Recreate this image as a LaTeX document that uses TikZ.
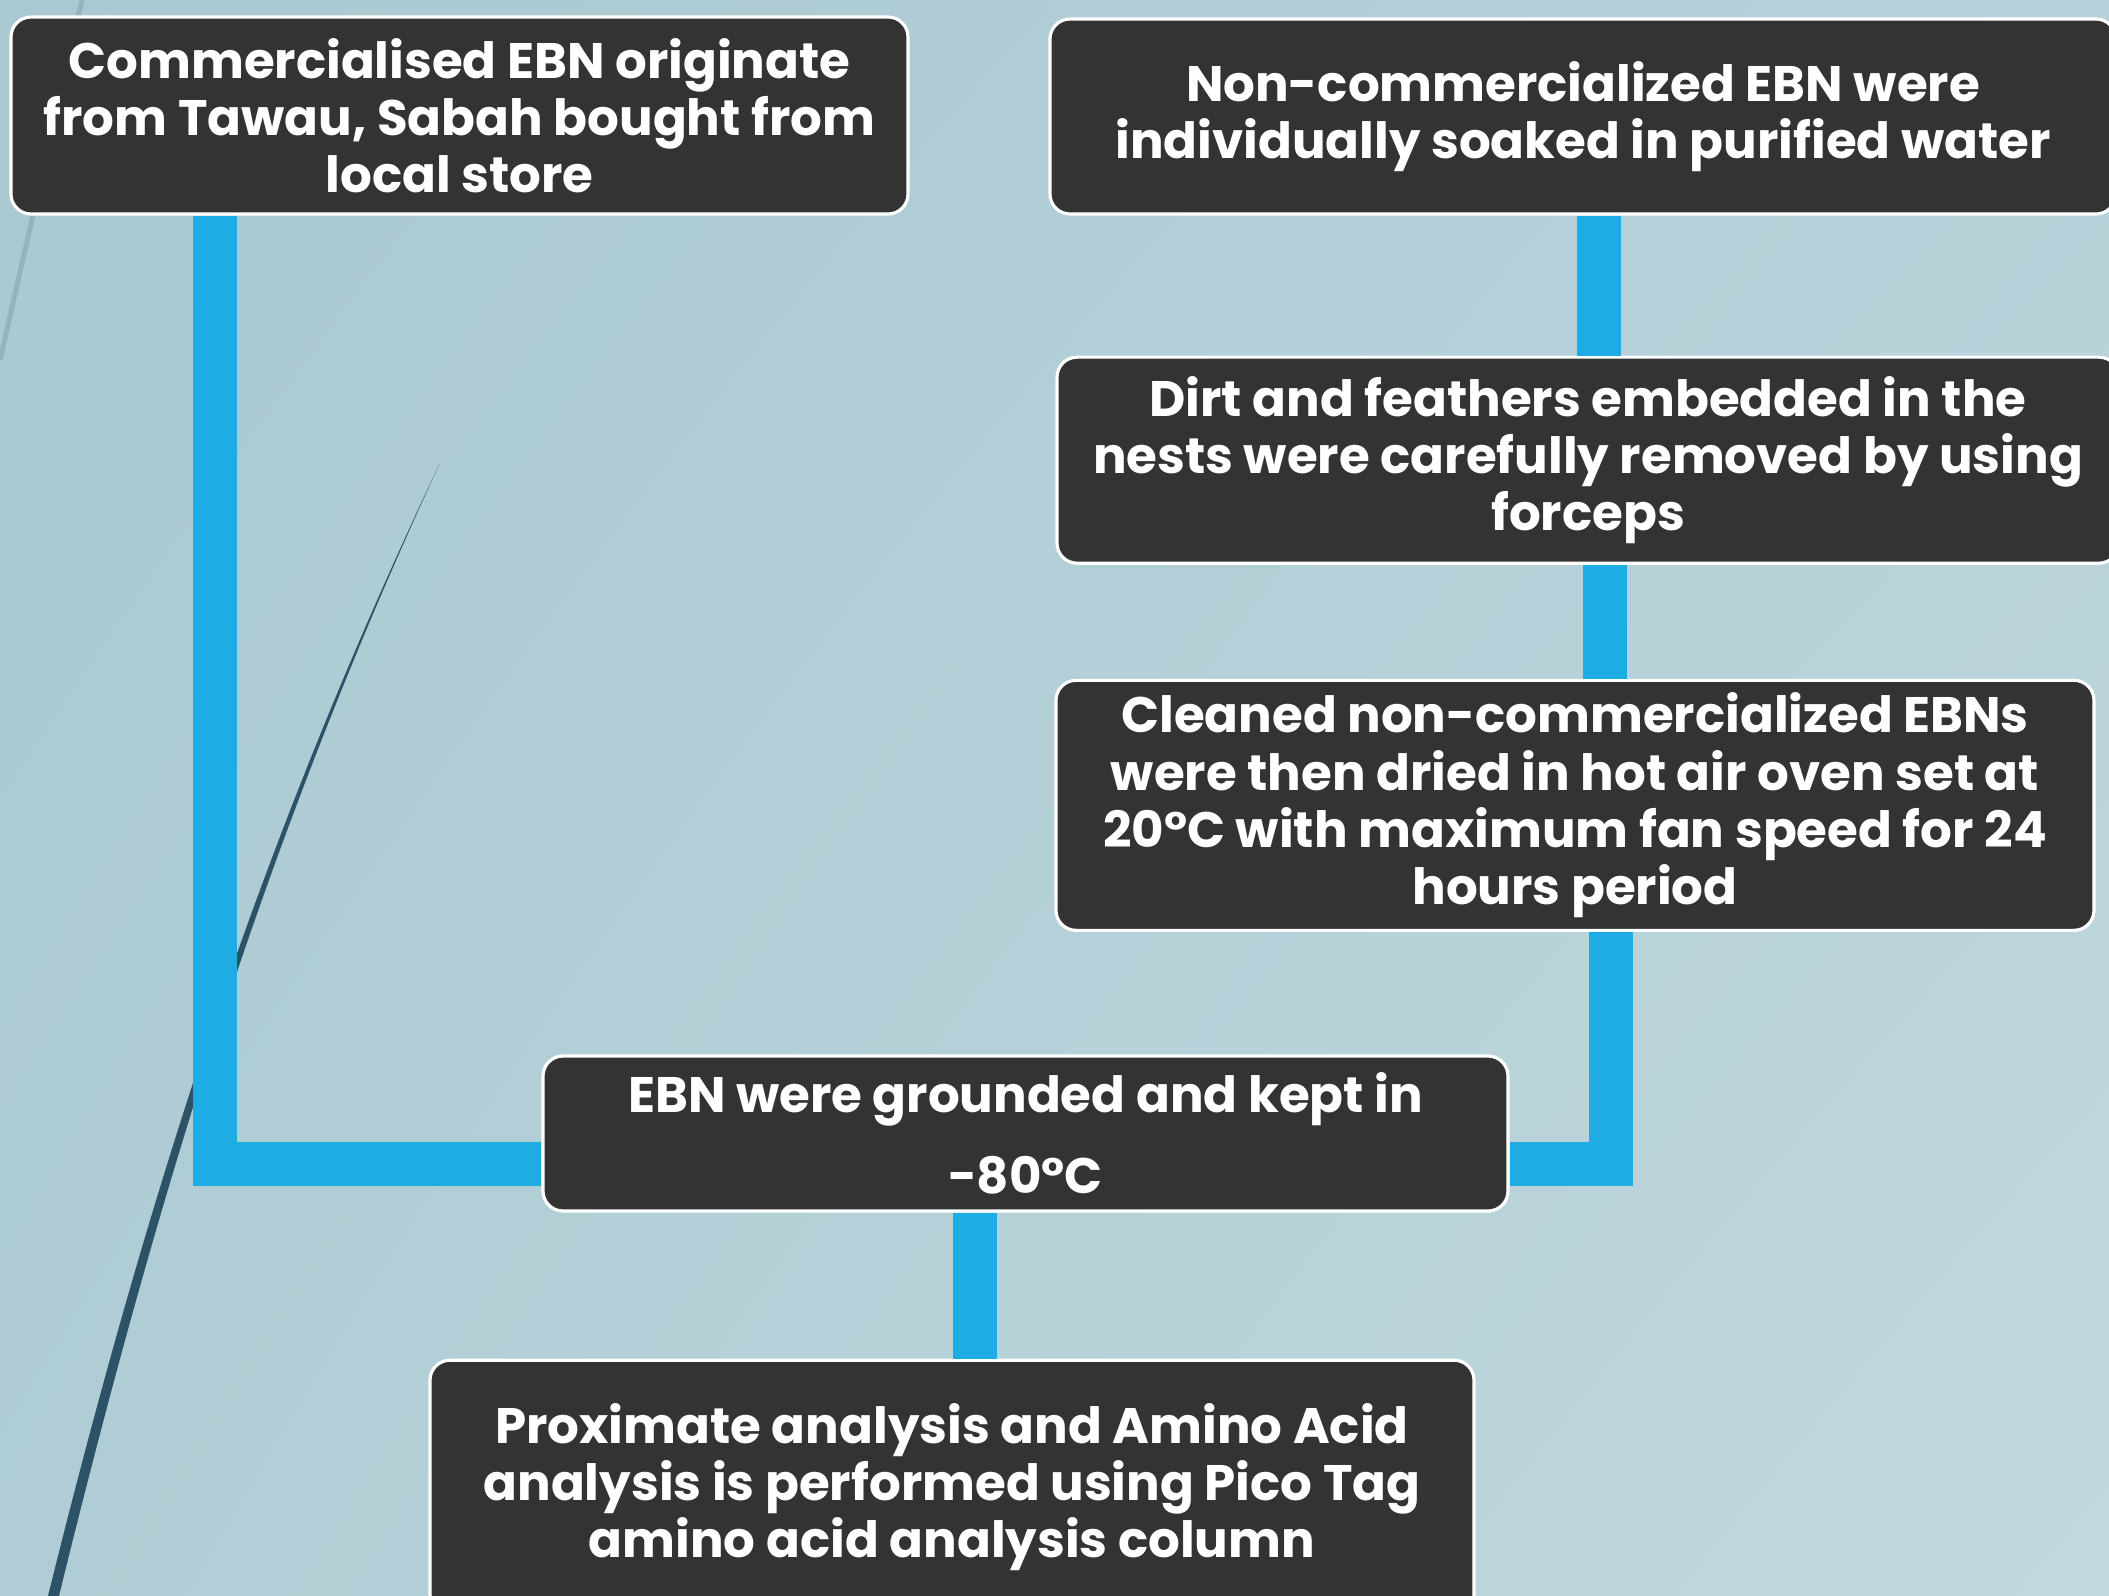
\documentclass[tikz,border=0pt]{standalone}
\usepackage{fontspec}
\setmainfont{Poppins}
\usetikzlibrary{positioning,shadings}

\definecolor{panel}{HTML}{333333}
\definecolor{flow}{RGB}{30,172,226}
\definecolor{bgul}{HTML}{A9C8D1}
\definecolor{bgur}{HTML}{B6D1D9}
\definecolor{bgll}{HTML}{B0CDD5}
\definecolor{bglr}{HTML}{C1D8DE}
\definecolor{swoosh}{HTML}{2D5267}
\definecolor{faint}{HTML}{93B4BE}

\begin{document}
\begin{tikzpicture}[
  font=\fontsize{14.2}{16.3}\selectfont\bfseries,
  box/.style={draw=white,line width=0.9pt,fill=panel,text=white,rounded corners=2mm,align=center,inner sep=2pt},
  flowline/.style={flow,line width=4.4mm}]

\useasboundingbox (0,0) rectangle (21.09,-15.96);
\clip (0,0) rectangle (21.09,-15.96);
\shade[upper left=bgul,upper right=bgur,lower left=bgll,lower right=bglr] (0,0) rectangle (21.09,-15.96);

% backdrop strokes
\draw[faint,line width=0.5mm] (0.82,0) -- (0,-3.6);
\fill[swoosh] (0.47,-16.0) .. controls (1.47,-11.96) and (2.59,-8.43) .. (4.40,-4.63)
  .. controls (2.64,-8.43) and (1.57,-11.96) .. (0.58,-16.0) -- cycle;

\node[box,minimum width=8.97cm,minimum height=1.97cm] (src) at (4.595,-1.155)
  {Commercialised EBN originate\\from Tawau, Sabah bought from\\local store};
\node[box,minimum width=10.66cm,minimum height=1.95cm] (soak) at (15.83,-1.165)
  {Non-commercialized EBN were\\individually soaked in purified water};
\node[box,minimum width=10.62cm,minimum height=2.06cm,below=1.4cm of soak,xshift=0.5mm] (dirt)
  {Dirt and feathers embedded in the\\nests were carefully removed by using\\forceps};
\node[box,minimum width=10.38cm,minimum height=2.5cm,below=1.14cm of dirt,xshift=-1.3mm] (oven)
  {Cleaned non-commercialized EBNs\\were then dried in hot air oven set at\\20°C with maximum fan speed for 24\\hours period};
\node[box,minimum width=9.65cm,minimum height=1.55cm] (grind) at (10.255,-11.335)
  {EBN were grounded and kept in\\[6.8pt]-80°C};
\node[box,minimum width=10.44cm,minimum height=2.54cm,below=1.46cm of grind,xshift=-7.35mm] (test)
  {Proximate analysis and Amino Acid\\analysis is performed using Pico Tag\\amino acid analysis column};

\draw[flowline] ([xshift=1.55mm]soak.south) -- ([xshift=1.55mm]soak.south |- dirt.north);
\draw[flowline] ([xshift=1.7mm]dirt.south) -- ([xshift=1.7mm]dirt.south |- oven.north);
\draw[flowline] ([xshift=2.06cm]src.south west) |- ([yshift=-3.05mm]grind.west);
\draw[flowline] ([xshift=3.55mm]oven.south) |- ([yshift=-3.05mm]grind.east);
\draw[flowline] ([xshift=-5.05mm]grind.south) -- ([xshift=-5.05mm]grind.south |- test.north);
\end{tikzpicture}
\end{document}
